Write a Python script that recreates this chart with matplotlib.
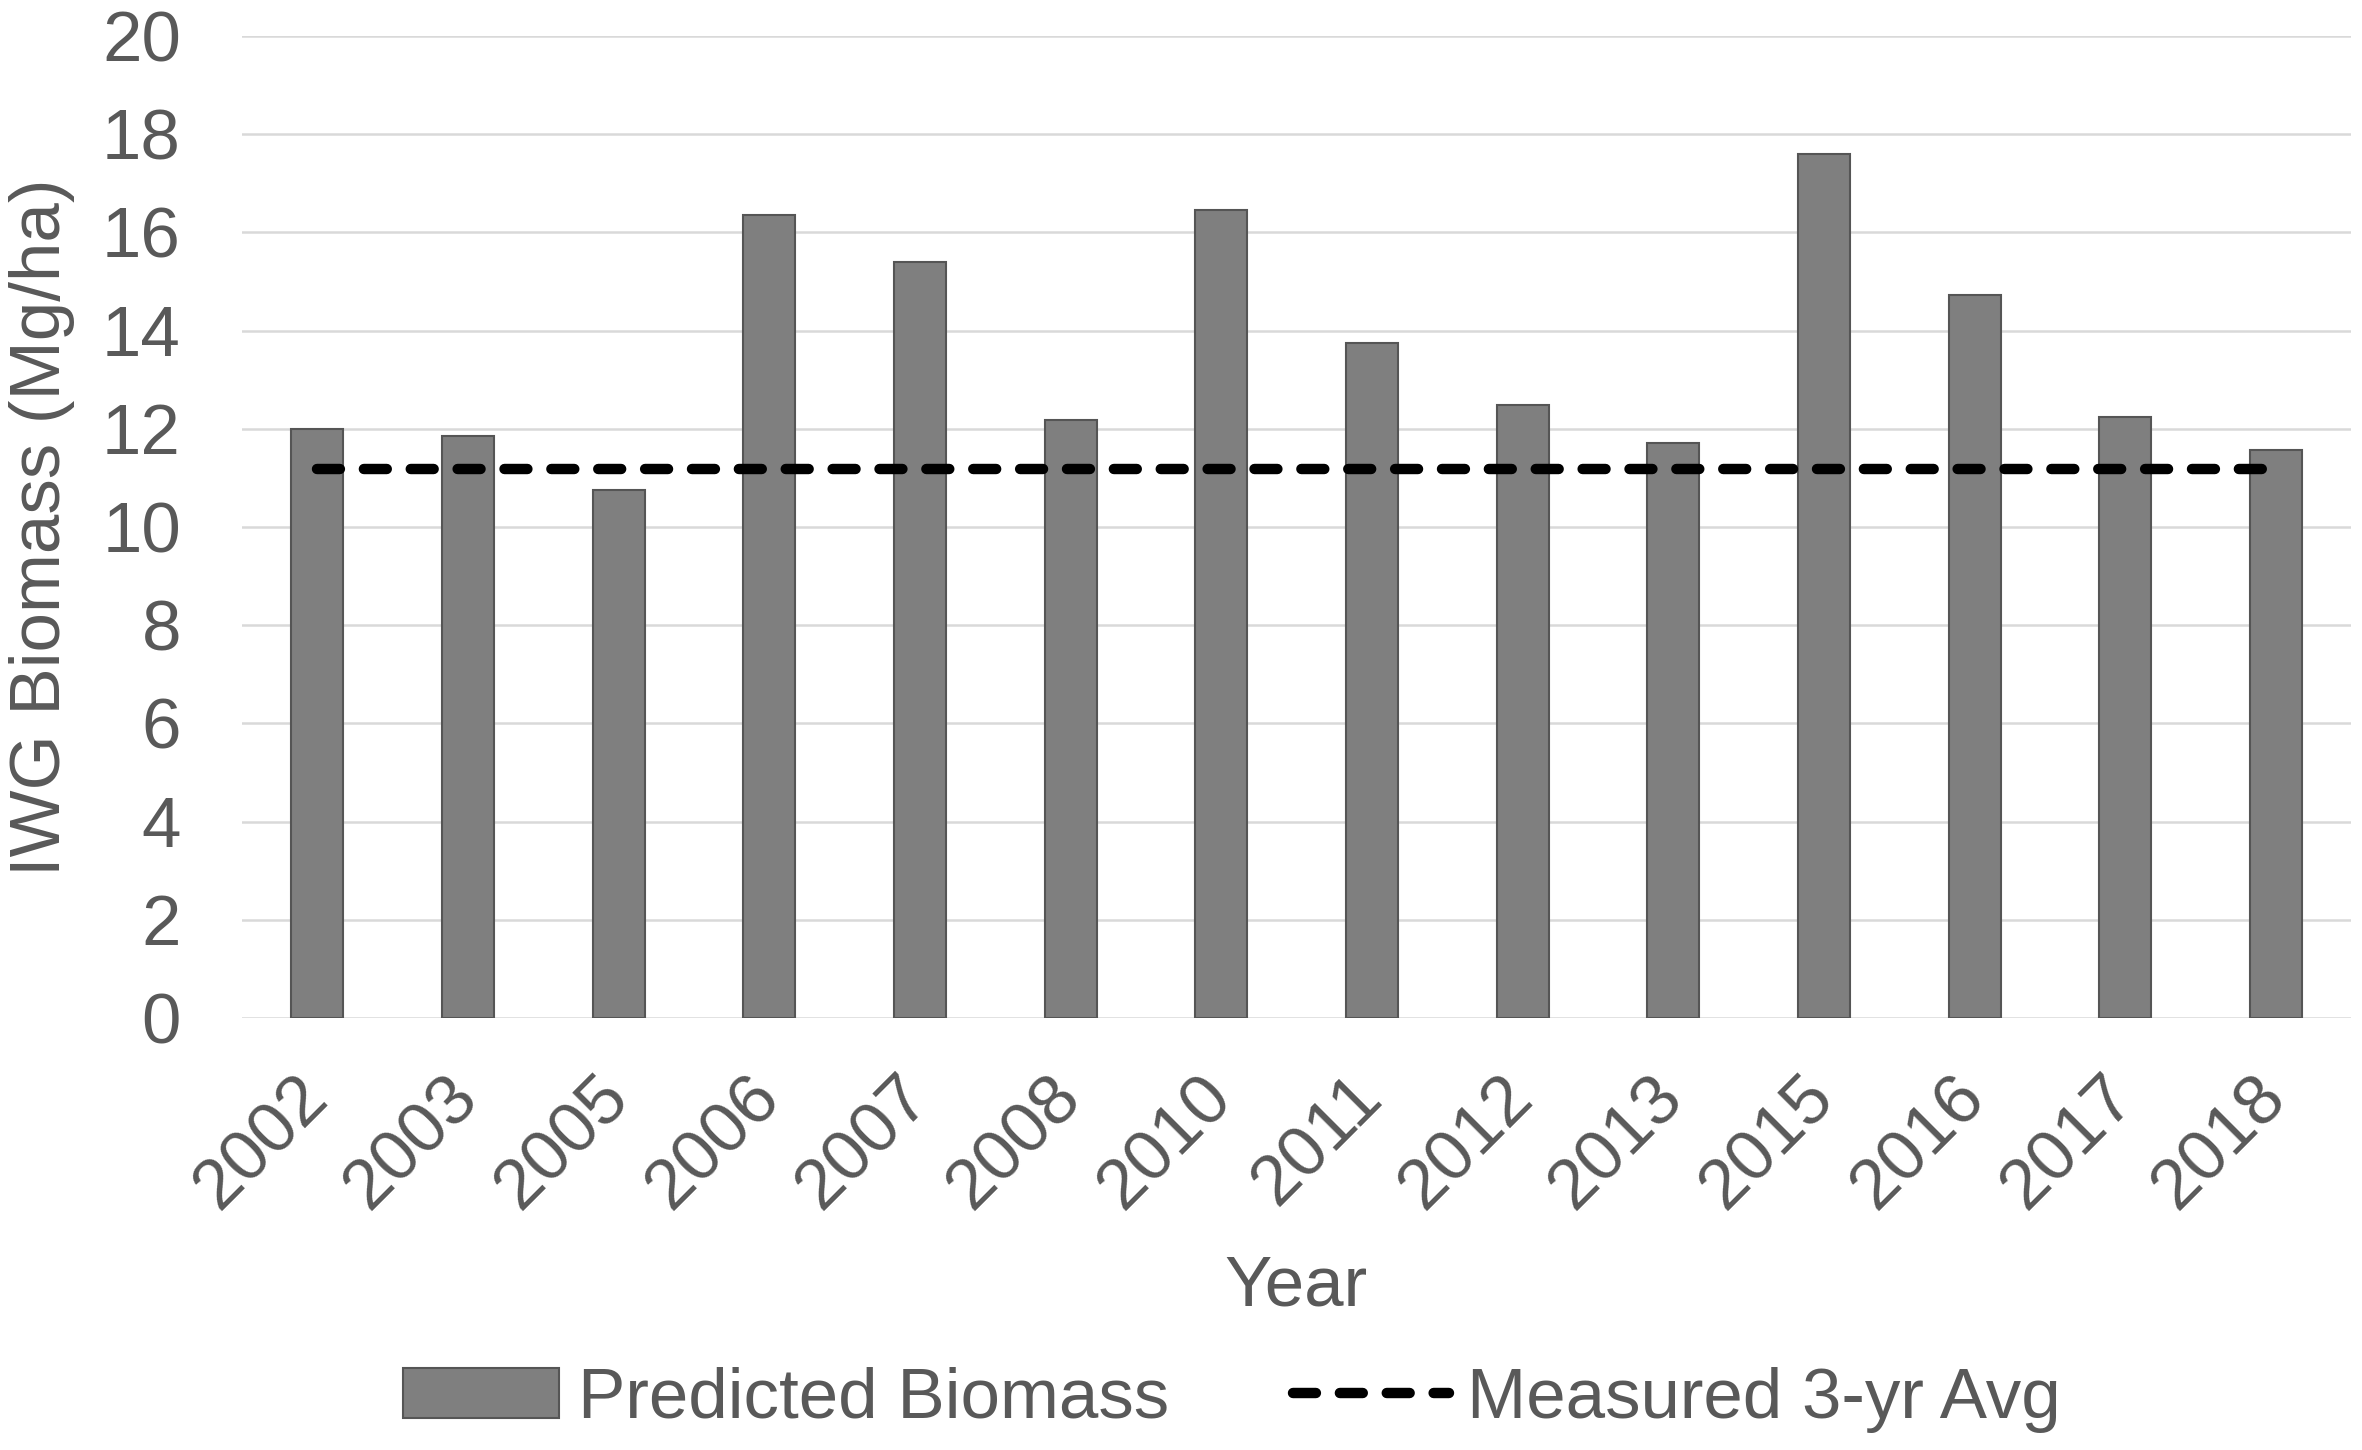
import numpy as np
from matplotlib import pyplot as plt

plt.rcParams['font.family'] = ['Liberation Sans', 'DejaVu Sans']

# IWG biomass per year
years = ['2002', '2003', '2005', '2006', '2007', '2008', '2010',
         '2011', '2012', '2013', '2015', '2016', '2017', '2018']
predicted = [12.0, 11.85, 10.75, 16.35, 15.4, 12.18, 16.45,
             13.74, 12.48, 11.72, 17.6, 14.72, 12.24, 11.56]
measured_avg = 11.18

txt = '#595959'
fs = 51

fig = plt.figure(figsize=(23.62, 14.5), dpi=100)
ax = fig.add_axes([0.1025, 0.2979, 0.8929, 0.6772])

x = np.arange(len(years))
bars = ax.bar(x, predicted, width=0.345, color='#7f7f7f', edgecolor='#555555',
              linewidth=1.5, label='Predicted Biomass', zorder=2)
line, = ax.plot(x, np.full(len(x), measured_avg), color='black', lw=7.5,
                dashes=(2.2, 2.3), dash_capstyle='round',
                label='Measured 3-yr Avg', zorder=3)

ax.set_xlim(-0.5, len(years) - 0.5)
ax.set_ylim(0, 20)
ax.set_yticks(range(0, 21, 2))
ax.yaxis.grid(True, color='#d9d9d9', lw=1.8, zorder=0)
ax.set_axisbelow(True)
for s in ax.spines.values():
    s.set_visible(False)
ax.tick_params(axis='y', length=0, pad=44, labelsize=fs, labelcolor=txt)
ax.tick_params(axis='x', length=0, pad=50, labelsize=fs, labelcolor=txt)
ax.set_xticks(x)
ax.set_xticklabels(years, rotation=45, ha='right', rotation_mode='anchor', va='center')

fig.text(42 / 2362, 1 - 527 / 1450, 'IWG Biomass (Mg/ha)', rotation=90,
         ha='center', va='center', fontsize=fs, color=txt)
fig.text(1296 / 2362, 1 - 1288 / 1450, 'Year', ha='center', va='center',
         fontsize=fs, color=txt)

leg = ax.legend([bars, line], ['Predicted Biomass', 'Measured 3-yr Avg'],
                loc='center', bbox_to_anchor=(1232 / 2362, 1 - 1400 / 1450),
                bbox_transform=fig.transFigure, ncol=2, frameon=False,
                fontsize=fs, handlelength=2.2, handleheight=0.7,
                handletextpad=0.26, columnspacing=1.75)
for t in leg.get_texts():
    t.set_color(txt)

fig.savefig('out.png', dpi=100)
